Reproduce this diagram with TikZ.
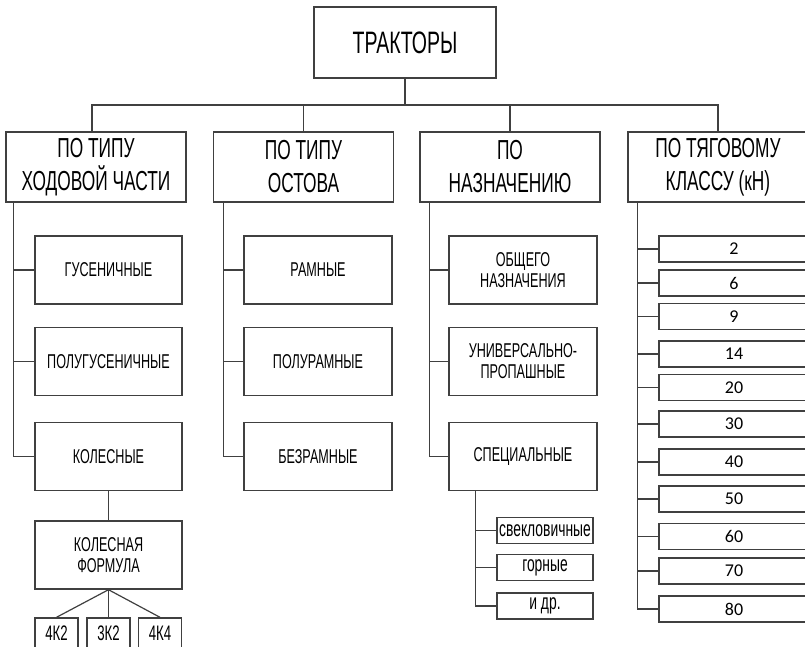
\documentclass[tikz,border=0pt]{standalone}
\usepackage{fontspec}
\setmainfont{Liberation Sans}
\newfontfamily\gostfont[FakeStretch=0.63]{Liberation Sans}
\newfontfamily\numfont{Carlito}
\usepackage{tikz}
\usetikzlibrary{positioning}
\definecolor{linegray}{HTML}{404040}
\tikzset{
  box/.style={draw=linegray, line width=1.4pt, rectangle, inner sep=0pt, align=center,
    text=black, font=\gostfont\fontsize{20}{21}\selectfont},
  headbox/.style={box, minimum width=180pt, minimum height=70pt,
    font=\gostfont\fontsize{27.5}{33}\selectfont},
  itembox/.style={box, minimum width=147pt, minimum height=68pt},
  numbox/.style={box, minimum width=150pt, minimum height=26pt,
    font=\numfont\fontsize{18}{20}\selectfont},
  smallbox/.style={box, minimum width=96pt, minimum height=26pt,
    font=\gostfont\fontsize{22}{22}\selectfont},
  wheelbox/.style={box, minimum width=43pt, minimum height=30pt,
    font=\gostfont\fontsize{21}{21}\selectfont},
  link/.style={draw=linegray, line width=1.2pt}
}

\begin{document}
\begin{tikzpicture}[x=1pt, y=-1pt]
\clip (0,0) rectangle (805,646);

% top
\node[box, minimum width=182pt, minimum height=71pt,
  font=\gostfont\fontsize{31}{31}\selectfont] (tractors) at (405,42.5) {ТРАКТОРЫ};

% first level
\node[headbox] (chassis) at (96,167) {ПО ТИПУ\\ХОДОВОЙ ЧАСТИ};
\node[headbox] (frame) at (303.5,167) {ПО ТИПУ\\ОСТОВА};
\node[headbox] (purpose) at (510,167) {ПО\\НАЗНАЧЕНИЮ};
\node[headbox] (traction) at (718,167) {ПО ТЯГОВОМУ\\КЛАССУ (кН)};

\coordinate (bus) at (405,105);
\draw[link] (tractors.south) -- (bus);
\draw[link] ([xshift=-4pt]chassis.north) |- (bus) -| (traction.north);
\draw[link] (frame.north) -- (frame.north |- bus);
\draw[link] (purpose.north) -- (purpose.north |- bus);

% running gear
\node[itembox] (crawler) at (108.5,270) {ГУСЕНИЧНЫЕ};
\node[itembox] (halfcrawler) at (108.5,361.5) {ПОЛУГУСЕНИЧНЫЕ};
\node[itembox] (wheeled) at (108.5,456.5) {КОЛЕСНЫЕ};
\coordinate (chassis trunk) at ([xshift=8pt]chassis.south west);
\draw[link] (chassis trunk) |- (wheeled.west);
\foreach \n in {crawler, halfcrawler}
  \draw[link] (\n.west) -- (\n.west -| chassis trunk);

\node[itembox] (formula) at (108.5,555) {КОЛЕСНАЯ\\ФОРМУЛА};
\draw[link] (wheeled) -- (formula);
\node[wheelbox] (w42) at (56.5,633) {4К2};
\node[wheelbox] (w32) at (108.5,633) {3К2};
\node[wheelbox] (w44) at (160,633) {4К4};
\foreach \n in {w42, w32, w44}
  \draw[link] (formula.south) -- (\n.north);

% frame
\node[itembox, minimum width=148pt] (framed) at (318,270) {РАМНЫЕ};
\node[itembox, minimum width=148pt] (halfframed) at (318,361.5) {ПОЛУРАМНЫЕ};
\node[itembox, minimum width=148pt] (frameless) at (318,456.5) {БЕЗРАМНЫЕ};
\coordinate (frame trunk) at ([xshift=10.5pt]frame.south west);
\draw[link] (frame trunk) |- (frameless.west);
\foreach \n in {framed, halfframed}
  \draw[link] (\n.west) -- (\n.west -| frame trunk);

% purpose
\node[itembox, minimum width=148pt] (general) at (523,270) {ОБЩЕГО\\НАЗНАЧЕНИЯ};
\node[itembox, minimum width=148pt] (rowcrop) at (523,361.5) {УНИВЕРСАЛЬНО-\\ПРОПАШНЫЕ};
\node[itembox, minimum width=148pt] (special) at (523,456.5) {СПЕЦИАЛЬНЫЕ};
\coordinate (purpose trunk) at ([xshift=10pt]purpose.south west);
\draw[link] (purpose trunk) |- (special.west);
\foreach \n in {general, rowcrop}
  \draw[link] (\n.west) -- (\n.west -| purpose trunk);

\node[smallbox] (beet) at (545,530.5) {свекловичные};
\node[smallbox] (mountain) at (545,567.5) {горные};
\node[smallbox] (others) at (545,606) {и др.};
\coordinate (special trunk) at ([xshift=27pt]special.south west);
\draw[link] (special trunk) |- (others.west);
\foreach \n in {beet, mountain}
  \draw[link] (\n.west) -- (\n.west -| special trunk);

% traction class
\foreach \v/\y in {2/249, 6/283, 9/316.5, 14/354, 20/387.5, 30/424,
                   40/462, 50/499, 60/536.5, 70/571, 80/609}
  \node[numbox] (n\v) at (734,\y) {\v};
\coordinate (traction trunk) at ([xshift=10pt]traction.south west);
\draw[link] (traction trunk) |- (n80.west);
\foreach \v in {2, 6, 9, 14, 20, 30, 40, 50, 60, 70}
  \draw[link] (n\v.west) -- (n\v.west -| traction trunk);
\end{tikzpicture}
\end{document}
